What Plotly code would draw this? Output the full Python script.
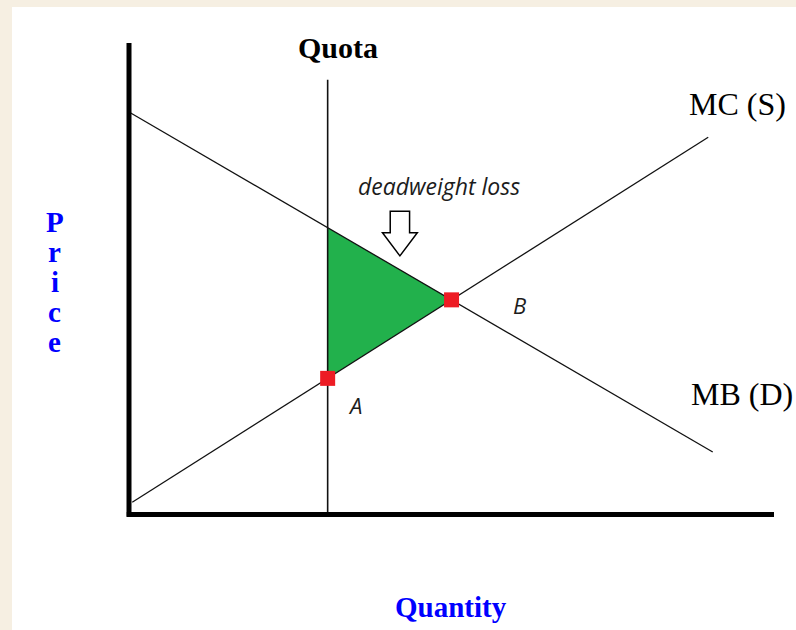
import plotly.graph_objects as go

# ---- data (quantity / price units) ----
mb_q = [0.0, 90.5]          # MB (D) demand curve endpoints
mb_p = [62.4, 9.7]
mc_q = [0.5, 89.8]          # MC (S) supply curve endpoints
mc_p = [1.9, 58.5]
quota_q = 30.8              # quota quantity
quota_top = 67.4
axis_q_max = 100.0
axis_p_max = 73.1

curve_labels = ["MC (S)", "MB (D)"]
point_labels = ["A", "B"]
title_quota = "Quota"
dwl_label = "deadweight loss"
x_title = "Quantity"
y_title = "Price"

# ---- helpers derived from data ----
def line_fn(qs, ps):
    s = (ps[1] - ps[0]) / (qs[1] - qs[0])
    return lambda q: ps[0] + s * (q - qs[0]), s

mb, s_mb = line_fn(mb_q, mb_p)
mc, s_mc = line_fn(mc_q, mc_p)
eq_q = (mc(0) - mb(0)) / (s_mb - s_mc)
eq_p = mb(eq_q)
qa_p_mb = mb(quota_q)
qa_p_mc = mc(quota_q)

# ---- layout scale ----
W, H = 796, 630
U = 6.45                    # pixels per unit
OX, OY = 129, 514.5         # origin in pixels
x_range = [-OX / U, (W - OX) / U]
y_range = [-(H - OY) / U, OY / U]

fig = go.Figure()

# green deadweight-loss triangle
fig.add_trace(go.Scatter(
    x=[quota_q, eq_q, quota_q, quota_q],
    y=[qa_p_mb, eq_p, qa_p_mc, qa_p_mb],
    fill="toself", fillcolor="#22b14c", mode="lines",
    line=dict(width=0, color="#22b14c"), hoverinfo="skip"))

# curves
fig.add_trace(go.Scatter(x=mb_q, y=mb_p, mode="lines",
                         line=dict(color="#111111", width=1.3), hoverinfo="skip"))
fig.add_trace(go.Scatter(x=mc_q, y=mc_p, mode="lines",
                         line=dict(color="#111111", width=1.3), hoverinfo="skip"))
fig.add_trace(go.Scatter(x=[quota_q, quota_q], y=[0, quota_top], mode="lines",
                         line=dict(color="#111111", width=1.6), hoverinfo="skip"))

# points A, B
fig.add_trace(go.Scatter(x=[quota_q, eq_q], y=[qa_p_mc, eq_p], mode="markers",
                         marker=dict(symbol="square", size=15, color="#ed1c24",
                                     line=dict(width=0)), hoverinfo="skip"))

shapes = []
# white panel over cream page edge
shapes.append(dict(type="rect", xref="paper", yref="paper",
                   x0=12 / W, x1=1, y0=0, y1=1 - 7 / H,
                   fillcolor="white", line=dict(width=0), layer="below"))
# axes
shapes.append(dict(type="line", xref="x", yref="y", x0=-0.35, x1=axis_q_max,
                   y0=0, y1=0, line=dict(color="black", width=5)))
shapes.append(dict(type="line", xref="x", yref="y", x0=0, x1=0,
                   y0=-0.35, y1=axis_p_max, line=dict(color="black", width=5)))

# hollow down arrow pointing at deadweight loss
tip_q, tip_p = 42.0, 40.1
hw, sw, hh, sh = 2.7, 1.5, 3.6, 3.3
pts = [(tip_q - sw, tip_p + hh + sh), (tip_q + sw, tip_p + hh + sh),
       (tip_q + sw, tip_p + hh), (tip_q + hw, tip_p + hh),
       (tip_q, tip_p), (tip_q - hw, tip_p + hh), (tip_q - sw, tip_p + hh)]
path = "M " + " L ".join(f"{a:.3f},{b:.3f}" for a, b in pts) + " Z"
shapes.append(dict(type="path", xref="x", yref="y", path=path,
                   fillcolor="white", line=dict(color="black", width=1.5)))

serif = "Liberation Serif, Times New Roman, serif"
sans = "Open Sans, sans-serif"
ann = []
ann.append(dict(x=32.4, y=72.4, text=f"<b>{title_quota}</b>",
                font=dict(family=serif, size=30, color="black")))
ann.append(dict(x=94.4, y=63.6, text=curve_labels[0],
                font=dict(family=serif, size=32, color="black")))
ann.append(dict(x=95.0, y=18.7, text=curve_labels[1],
                font=dict(family=serif, size=32, color="black")))
ann.append(dict(x=48.1, y=50.9, text=f"<i>{dwl_label}</i>",
                font=dict(family=sans, size=23, color="#1c1c1c")))
ann.append(dict(x=35.0, y=17.0, text=f"<i>{point_labels[0]}</i>",
                font=dict(family=sans, size=22, color="#1c1c1c")))
ann.append(dict(x=60.5, y=32.5, text=f"<i>{point_labels[1]}</i>",
                font=dict(family=sans, size=22, color="#1c1c1c")))
ann.append(dict(x=49.9, y=-14.3, text=f"<b>{x_title}</b>",
                font=dict(family=serif, size=29, color="#0000ff")))
# stacked vertical "Price"
step = 30 / U
mid = (len(y_title) - 1) / 2
for i, ch in enumerate(y_title):
    ann.append(dict(x=-11.5, y=36.05 - (i - mid) * step, text=f"<b>{ch}</b>",
                    font=dict(family=serif, size=29, color="#0000ff")))
for a in ann:
    a.update(xref="x", yref="y", showarrow=False, xanchor="center", yanchor="middle")

fig.update_layout(
    width=W, height=H, autosize=False,
    margin=dict(l=0, r=0, t=0, b=0, pad=0),
    paper_bgcolor="#f6efe2", plot_bgcolor="rgba(0,0,0,0)",
    showlegend=False, shapes=shapes, annotations=ann,
    xaxis=dict(range=x_range, visible=False, fixedrange=True),
    yaxis=dict(range=y_range, visible=False, fixedrange=True),
)

fig.write_html("out.html", include_plotlyjs=True,
               config={"displayModeBar": False},
               post_script="document.body.style.margin='0';")
